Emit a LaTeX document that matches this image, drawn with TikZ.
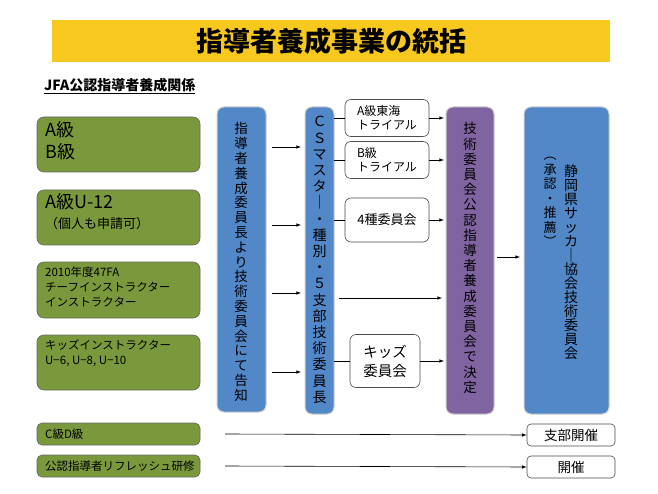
\documentclass[tikz,border=0pt]{standalone}
\usepackage{fontspec}
\setmainfont{Noto Sans CJK JP}
\begin{document}
\begin{tikzpicture}[x=1pt,y=-1pt,
 grn/.style={draw=black!60,fill={rgb,255:red,122;green,153;blue,60},rounded corners=7,line width=0.6},
 blu/.style={draw=white!80!black,fill={rgb,255:red,82;green,135;blue,200},rounded corners=7,line width=1},
 pur/.style={draw=white!80!black,fill={rgb,255:red,128;green,100;blue,162},rounded corners=7,line width=1},
 wht/.style={draw=black!70,fill=white,rounded corners=6,line width=0.6},
 arr/.style={-latex,line width=0.6},
 vt/.style={align=center,inner sep=0pt},
 gt/.style={anchor=north west,align=left,inner sep=0pt}]
\useasboundingbox (0,0) rectangle (658,494);
\fill[white] (0,0) rectangle (658,494);
\node[fill={rgb,255:red,247;green,200;blue,30},minimum width=558,minimum height=42,inner sep=0,font=\fontsize{27}{27}\selectfont\bfseries] (title) at (331,41) {指導者養成事業の統括};
\node[anchor=west,inner sep=0,font=\fontsize{14}{14}\selectfont\bfseries] (sub) at (44,86) {\underline{JFA公認指導者養成関係}};
% green boxes
\draw[grn] (37,117) rectangle (200,172);
\node[gt,font=\fontsize{18}{22}\selectfont] (g1) at (45,121) {A級\\B級};
\draw[grn] (37,190) rectangle (200,245);
\node[gt,font=\fontsize{18}{20}\selectfont] (g2) at (45,193) {A級U-12\\{\fontsize{13}{18}\selectfont （個人も申請可）}};
\draw[grn] (37,262) rectangle (200,318);
\node[gt,font=\fontsize{11.5}{15}\selectfont] (g3) at (45,267) {2010年度47FA\\チーフインストラクター\\インストラクター};
\draw[grn] (37,335) rectangle (200,390);
\node[gt,font=\fontsize{11.5}{15}\selectfont] (g4) at (45,340) {キッズインストラクター\\U−6, U−8, U−10};
% blue 1
\draw[blu] (217,107) rectangle (266,412);
\node[vt,font=\fontsize{13.5}{14.8}\selectfont] (b1) at (241,262) {指\\導\\者\\養\\成\\委\\員\\長\\よ\\り\\技\\術\\委\\員\\会\\に\\て\\告\\知};
\coordinate (o1) at (272,147); \coordinate (o2) at (272,225); \coordinate (o3) at (272,293); \coordinate (o4) at (272,372);
\coordinate (i1) at (301,147); \coordinate (i2) at (301,225); \coordinate (i3) at (301,293); \coordinate (i4) at (301,372);
\foreach \k in {1,2,3,4} \draw[arr] (o\k) -- (i\k);
% blue 2
\draw[blu] (305,107) rectangle (334,414);
\node[vt,font=\fontsize{14}{16.2}\selectfont] (b2) at (319.5,260) {Ｃ\\Ｓ\\マ\\ス\\タ\\｜\\・\\種\\別\\・\\５\\支\\部\\技\\術\\委\\員\\長};
% white boxes
\node[wht,minimum width=84,minimum height=37,align=left,font=\fontsize{12}{14}\selectfont] (w1) at (387,118) {A級東海\\トライアル};
\node[wht,minimum width=84,minimum height=37,align=left,font=\fontsize{12}{14}\selectfont] (w2) at (387,160) {B級\\トライアル};
\node[wht,minimum width=84,minimum height=44,font=\fontsize{13}{14}\selectfont] (w3) at (387,220) {4種委員会};
\node[wht,minimum width=70,minimum height=53,align=center,font=\fontsize{14.5}{19}\selectfont] (w4) at (385,361) {キッズ\\委員会};
\coordinate (L) at (334,0);
\coordinate (R) at (444,0);
\foreach \w in {w1,w2,w3,w4} {
  \draw[line width=0.6] (L |- \w.west) -- (\w.west);
  \draw[arr] (\w.east) -- (R |- \w.east);
}
% purple
\draw[pur] (446,107) rectangle (494,414);
\node[vt,font=\fontsize{13.5}{15.2}\selectfont] (p) at (470,258) {技\\術\\委\\員\\会\\公\\認\\指\\導\\者\\養\\成\\委\\員\\会\\で\\決\\定};
\coordinate (s5) at (339,298); \coordinate (e5) at (442,298);
\draw[arr] (s5) -- (e5);
% right blue
\draw[blu] (524,107) rectangle (609,414);
\node[vt,font=\fontsize{14}{14}\selectfont] (r1) at (571,262) {静\\岡\\県\\サ\\ッ\\カ\\｜\\協\\会\\技\\術\\委\\員\\会};
\node[vt,font=\fontsize{13}{14.5}\selectfont] (r2) at (550,202) {︵\\承\\認\\・\\推\\薦\\︶};
\coordinate (a6) at (497,257); \coordinate (b6) at (520,257);
\draw[arr] (a6) -- (b6);
% bottom
\draw[grn,rounded corners=5] (37,423) rectangle (200,445);
\node[anchor=west,inner sep=0,font=\fontsize{11.5}{12}\selectfont] (c1) at (45,434) {C級D級};
\draw[grn,rounded corners=5] (37,455) rectangle (200,477);
\node[anchor=west,inner sep=0,font=\fontsize{11.5}{12}\selectfont] (c2) at (45,466) {公認指導者リフレッシュ研修};
\node[wht,rounded corners=4,minimum width=88,minimum height=22,font=\fontsize{13.5}{13}\selectfont] (k1) at (571,435) {支部開催};
\node[wht,rounded corners=4,minimum width=88,minimum height=22,font=\fontsize{13.5}{13}\selectfont] (k2) at (571,467) {開催};
\coordinate (q1) at (225,434); \coordinate (q2) at (225,466);
\draw[arr] (q1) -- (k1.west);
\draw[arr] (q2) -- (k2.west);
\end{tikzpicture}
\end{document}
